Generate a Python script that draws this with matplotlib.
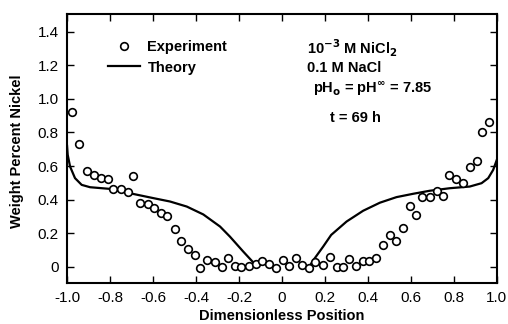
import matplotlib
matplotlib.use("Agg")
import matplotlib.pyplot as plt
import numpy as np

# experimental points (dimensionless position, weight percent Ni)
exp_x = [-0.976, -0.944, -0.908, -0.874, -0.843, -0.811, -0.788, -0.750, -0.715, -0.692,
         -0.659, -0.625, -0.594, -0.564, -0.533, -0.499, -0.469, -0.435, -0.406, -0.379,
         -0.347, -0.313, -0.281, -0.250, -0.220, -0.189, -0.155, -0.122, -0.092, -0.059,
         -0.028, 0.003, 0.032, 0.065, 0.092, 0.127, 0.153, 0.189, 0.223, 0.254,
         0.285, 0.313, 0.344, 0.375, 0.406, 0.440, 0.471, 0.502, 0.533, 0.564,
         0.594, 0.626, 0.650, 0.688, 0.720, 0.750, 0.778, 0.812, 0.843, 0.874,
         0.906, 0.933, 0.964]
exp_y = [0.920, 0.734, 0.570, 0.546, 0.528, 0.524, 0.464, 0.464, 0.445, 0.540,
         0.383, 0.373, 0.349, 0.320, 0.300, 0.224, 0.155, 0.107, 0.072, -0.005,
         0.040, 0.028, -0.003, 0.051, 0.003, 0.002, 0.007, 0.018, 0.036, 0.016,
         -0.006, 0.042, 0.006, 0.050, 0.012, -0.006, 0.030, 0.012, 0.061, 0.002,
         0.002, 0.048, 0.006, 0.036, 0.036, 0.052, 0.131, 0.192, 0.155, 0.230,
         0.363, 0.310, 0.413, 0.413, 0.454, 0.423, 0.548, 0.524, 0.498, 0.597,
         0.631, 0.805, 0.865]

# theory curve (left branch, gap, right branch)
th_left_x = [-1.0, -0.997, -0.986, -0.963, -0.932, -0.893, -0.80, -0.707, -0.598, -0.521,
             -0.443, -0.366, -0.288, -0.242, -0.18, -0.133, -0.121]
th_left_y = [0.72, 0.667, 0.597, 0.528, 0.488, 0.474, 0.464, 0.438, 0.409, 0.389,
             0.359, 0.312, 0.24, 0.18, 0.091, 0.026, 0.01]
th_right_x = [0.127, 0.153, 0.192, 0.229, 0.301, 0.378, 0.456, 0.533, 0.611, 0.688,
              0.781, 0.874, 0.929, 0.96, 0.983, 1.0]
th_right_y = [0.002, 0.052, 0.121, 0.19, 0.27, 0.334, 0.382, 0.415, 0.435, 0.453,
              0.468, 0.478, 0.498, 0.528, 0.577, 0.637]

xticks = [-1.0, -0.8, -0.6, -0.4, -0.2, 0, 0.2, 0.4, 0.6, 0.8, 1.0]
xticklabels = ["-1.0", "-0.8", "-0.6", "-0.4", "-0.2", "0", "0.2", "0.4", "0.6", "0.8", "1.0"]
yticks = [0, 0.2, 0.4, 0.6, 0.8, 1.0, 1.2, 1.4]
yticklabels = ["0", "0.2", "0.4", "0.6", "0.8", "1.0", "1.2", "1.4"]

plt.rcParams["font.family"] = ["Liberation Sans", "DejaVu Sans"]

fig = plt.figure(figsize=(5.08, 3.24), dpi=100)
ax = fig.add_axes([0.132, 0.127, 0.846, 0.830])

th_x = th_left_x + [np.nan] + th_right_x
th_y = th_left_y + [np.nan] + th_right_y
ax.plot(exp_x, exp_y, "o", mfc="white", mec="black", mew=1.2, ms=5.5, ls="none",
        label="Experiment", zorder=3)
ax.plot(th_x, th_y, "-", color="black", lw=1.6, label="Theory", zorder=2)

ax.set_xlim(-1.0, 1.0)
ax.set_ylim(-0.095, 1.505)
ax.set_xticks(xticks)
ax.set_xticklabels(xticklabels)
ax.set_yticks(yticks)
ax.set_yticklabels(yticklabels)
ax.tick_params(direction="in", length=5, width=1.0, top=True, right=True,
               labelsize=11, pad=6)
for s in ax.spines.values():
    s.set_linewidth(1.5)

ax.set_xlabel("Dimensionless Position", fontsize=10.5, fontweight="bold", labelpad=3)
ax.set_ylabel("Weight Percent Nickel", fontsize=10.5, fontweight="bold", va="center")
ax.yaxis.set_label_coords(-0.117, 0.49)

leg = ax.legend(loc="upper left", bbox_to_anchor=(0.065, 0.952), frameon=False,
                handlelength=2.2, handletextpad=0.5, labelspacing=0.45,
                prop={"weight": "bold", "size": 10.5})

tkw = dict(transform=ax.transData, fontsize=10.5, fontweight="bold", ha="left", va="center")
ax.text(0.115, 1.30, r"10$^{\mathbf{-3}}$ M NiCl$_{\mathbf{2}}$", **tkw)
ax.text(0.115, 1.185, "0.1 M NaCl", **tkw)
ax.text(0.143, 1.06, r"pH$_{\mathbf{o}}$ = pH$^{\mathbf{\infty}}$ = 7.85", **tkw)
ax.text(0.225, 0.885, "t = 69 h", **tkw)

fig.savefig("out.png", dpi=100)
